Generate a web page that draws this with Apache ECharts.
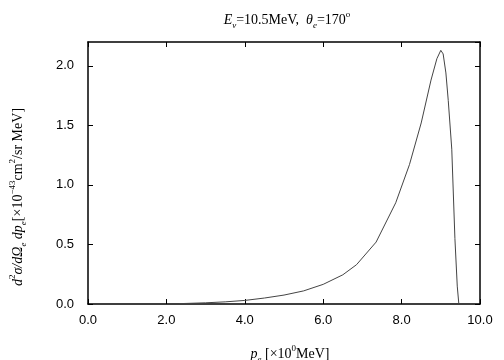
<!DOCTYPE html>
<html>
<head>
<meta charset="utf-8">
<script src="https://cdn.jsdelivr.net/npm/echarts@6/dist/echarts.min.js"></script>
<style>
  html, body { margin: 0; padding: 0; background: #fff; }
  #chart { width: 504px; height: 360px; }
</style>
</head>
<body>
<div id="chart"></div>
<script>
// electron momentum p_e [MeV] and cross section [1e-43 cm^2/sr MeV]
var momentum = [2.33, 3.0, 3.5, 4.0, 4.5, 5.0, 5.5, 6.0, 6.5, 6.85, 7.35, 7.85, 8.2, 8.5, 8.75, 8.9, 9.0, 9.06, 9.13, 9.19, 9.28, 9.36, 9.42, 9.46];
var crossSection = [0.003, 0.01, 0.018, 0.03, 0.05, 0.075, 0.11, 0.165, 0.245, 0.33, 0.52, 0.85, 1.17, 1.52, 1.88, 2.06, 2.13, 2.10, 1.94, 1.71, 1.30, 0.55, 0.15, 0.0];

var serif = '"Liberation Serif", "DejaVu Serif", serif';
var sans = '"Liberation Sans", "DejaVu Sans", sans-serif';

var curveData = [];
momentum.forEach(function (p, i) {
    curveData.push([p, crossSection[i]]);
});

var myChart = echarts.init(document.getElementById('chart'));

// rich text styles for the physics labels
var richText = {
    i: { fontFamily: serif, fontStyle: 'italic', fontWeight: 'normal', fontSize: 14, color: '#000' },
    n: { fontFamily: serif, fontWeight: 'normal', fontSize: 14, color: '#000' },
    sub: { fontFamily: serif, fontStyle: 'italic', fontWeight: 'normal', fontSize: 9, color: '#000', verticalAlign: 'bottom', lineHeight: 20 },
    sup: { fontFamily: serif, fontWeight: 'normal', fontSize: 9, color: '#000', verticalAlign: 'top', lineHeight: 20 }
};

var axisLine = { show: true, onZero: false, lineStyle: { color: '#000', width: 1.5 } };
var axisTick = { show: true, inside: true, length: 5, lineStyle: { color: '#000', width: 1 } };

var option = {
    backgroundColor: '#fff',
    animation: false,
    title: {
        text: '{i|E}{sub|ν}{n|=10.5MeV,  }{i|θ}{sub|e}{n|=170}{sup|o}',
        left: 282,
        top: 5,
        textAlign: 'center',
        textStyle: { fontWeight: 'normal', rich: richText }
    },
    grid: {
        left: 88,
        right: 24,
        top: 42,
        bottom: 56,
        outerBoundsMode: 'none'
    },
    xAxis: [{
        type: 'value',
        min: 0,
        max: 10,
        interval: 2,
        name: '{i|p}{sub|e}{n| [×10}{sup|0}{n|MeV]}',
        nameLocation: 'middle',
        nameGap: 40,
        nameTextStyle: { padding: [0, 0, 0, 12], rich: richText },
        axisLine: axisLine,
        axisTick: axisTick,
        splitLine: { show: false },
        axisLabel: {
            color: '#000',
            fontFamily: sans,
            fontSize: 13,
            margin: 10,
            formatter: function (v) { return v.toFixed(1); }
        }
    }, {
        type: 'value',
        position: 'top',
        min: 0,
        max: 10,
        interval: 2,
        axisLine: axisLine,
        axisTick: axisTick,
        splitLine: { show: false },
        axisLabel: { show: false }
    }],
    yAxis: [{
        type: 'value',
        min: 0,
        max: 2.2,
        interval: 0.5,
        name: '{i|d}{sup|2}{i|σ/dΩ}{sub|e}{i| dp}{sub|e}{n|[×10}{sup|−43}{n|cm}{sup|2}{n|/sr MeV]}',
        nameLocation: 'middle',
        nameRotate: 90,
        nameGap: 60,
        nameTextStyle: { padding: [0, 48, 0, 0], rich: richText },
        axisLine: axisLine,
        axisTick: axisTick,
        splitLine: { show: false },
        axisLabel: {
            color: '#000',
            fontFamily: sans,
            fontSize: 13,
            margin: 14,
            showMaxLabel: false,
            formatter: function (v) { return v.toFixed(1); }
        }
    }, {
        type: 'value',
        position: 'right',
        min: 0,
        max: 2.2,
        interval: 0.5,
        axisLine: axisLine,
        axisTick: axisTick,
        splitLine: { show: false },
        axisLabel: { show: false }
    }],
    series: [{
        type: 'line',
        data: curveData,
        showSymbol: false,
        smooth: false,
        lineStyle: { color: '#444', width: 1 }
    }]
};

myChart.setOption(option);
</script>
</body>
</html>
